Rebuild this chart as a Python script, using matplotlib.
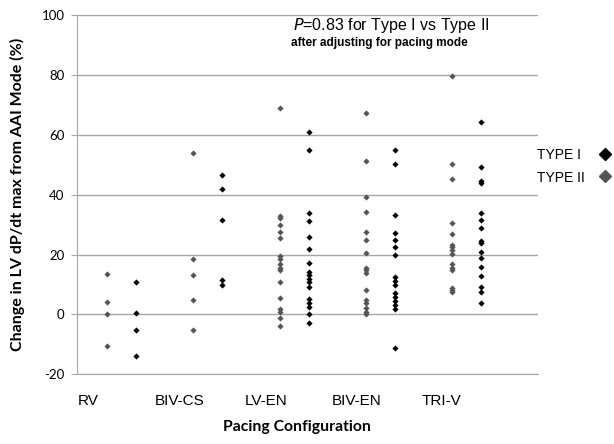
import numpy as np
import matplotlib
matplotlib.use("Agg")
import matplotlib.pyplot as plt
from matplotlib.lines import Line2D

plt.rcParams["axes.unicode_minus"] = False

# pacing configurations
categories = ["RV", "BIV-CS", "LV-EN", "BIV-EN", "TRI-V"]

# change in LV dP/dt max (%) per configuration, Type II patients
type2 = [
    [13.4, 4.2, 0.0, -10.7],
    [54.0, 18.4, 13.2, 4.7, -5.2],
    [69.0, 33.0, 32.2, 29.9, 27.4, 25.4, 19.6, 18.6, 16.7, 15.6, 14.8, 10.9, 5.4, 1.8, 0.8, -1.1, -3.9],
    [67.4, 51.1, 39.2, 34.2, 27.4, 25.0, 20.6, 15.6, 14.8, 13.9, 8.3, 4.8, 3.9, 2.0, 0.8, 0.0],
    [79.8, 50.4, 45.2, 30.6, 26.8, 23.3, 22.4, 21.4, 20.3, 16.7, 15.6, 14.8, 8.9, 8.1, 7.6],
]

# same for Type I patients
type1 = [
    [10.7, 0.5, -5.3, -13.9],
    [46.6, 41.8, 31.6, 11.6, 9.8],
    [61.1, 55.0, 33.9, 31.3, 25.7, 21.9, 17.1, 14.1, 13.1, 12.0, 10.8, 9.3, 5.0, 3.8, 2.6, 0.0, -2.9],
    [54.8, 50.4, 33.3, 27.2, 24.8, 22.4, 20.0, 12.6, 11.1, 9.7, 7.2, 5.9, 4.4, 3.0, 1.7, -11.1],
    [64.3, 49.3, 44.7, 44.0, 33.9, 31.4, 29.0, 24.4, 23.9, 20.8, 18.9, 15.7, 13.0, 9.1, 7.4, 3.7],
]

legend_labels = ["TYPE I", "TYPE II"]

fig = plt.figure(figsize=(6.14, 4.44), dpi=100)
ax = fig.add_axes([0.1254, 0.157, 0.7505, 0.809])

grey2 = "#555555"
for i in range(len(categories)):
    x2 = np.full(len(type2[i]), i + 1 - 0.168)
    x1 = np.full(len(type1[i]), i + 1 + 0.168)
    ax.scatter(x2, type2[i], marker="D", s=10, color=grey2, linewidths=0, zorder=3)
    ax.scatter(x1, type1[i], marker="D", s=10, color="black", linewidths=0, zorder=3)

ax.set_ylim(-20, 100)
ax.set_xlim(0.484, 5.826)
ax.set_yticks(np.arange(-20, 101, 20))
ax.yaxis.grid(True, color="#a6a6a6", linewidth=1)
ax.set_axisbelow(True)
for s in ["top", "right"]:
    ax.spines[s].set_visible(False)
ax.spines["left"].set_color("#a6a6a6")
ax.spines["bottom"].set_color("#a6a6a6")
ax.tick_params(axis="y", length=4, color="#a6a6a6", labelsize=9.5, pad=5)
ax.tick_params(axis="x", length=0, pad=14, labelsize=11)
for lab in ax.get_yticklabels():
    lab.set_family("Lato")

ax.set_xticks([0.61, 1.67, 2.68, 3.72, 4.71])
ax.set_xticklabels(categories, family="Liberation Sans")

ax.set_ylabel("Change in LV dP/dt max from AAI Mode (%)", family="Lato",
              fontweight="bold", fontsize=11.5, labelpad=12)
fig.text(0.484, 0.038, "Pacing Configuration", family="Lato", fontweight="bold",
         fontsize=11.3, ha="center", va="center")

ax.text(0.469, 0.97, "$\\it{P}$=0.83 for Type I vs Type II", transform=ax.transAxes,
        family="Liberation Sans", fontsize=11.5, ha="left", va="center")
ax.text(0.464, 0.922, "after adjusting for pacing mode", transform=ax.transAxes,
        family="Liberation Sans", fontweight="bold", fontsize=8.5, ha="left", va="center")

# legend: labels left-aligned, marker after the text
leg_colors = ["black", grey2]
leg_y = [0.651, 0.600]
for lab, col, yy in zip(legend_labels, leg_colors, leg_y):
    fig.text(0.874, yy, lab, family="Liberation Sans", fontsize=10, ha="left", va="center")
    fig.add_artist(Line2D([0.985], [yy + 0.003], marker="D", markersize=6.5, color=col,
                          linestyle="none", transform=fig.transFigure))

fig.savefig("out.png", dpi=100)
